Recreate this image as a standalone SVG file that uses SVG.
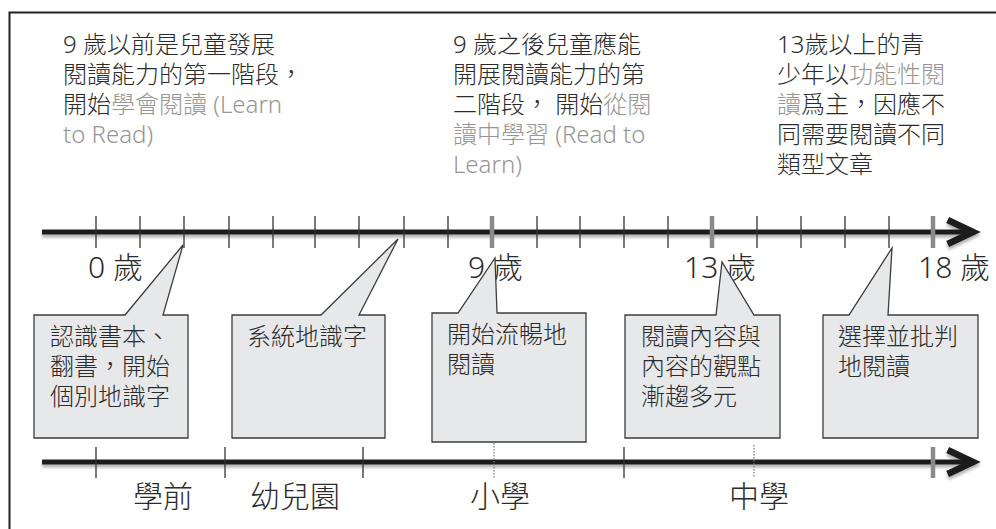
<svg xmlns="http://www.w3.org/2000/svg" width="996" height="529" viewBox="0 0 996 529" xml:lang="zh-Hant-TW" lang="zh-Hant-TW">
<style>
.t{font-family:"Noto Sans","Noto Sans CJK TC",sans-serif;font-size:24px;font-weight:300;fill:#2b2b2b}
.g{fill:#969696}
.ax{font-family:"Noto Sans","Noto Sans CJK TC",sans-serif;font-size:30px;font-weight:300;fill:#2b2b2b}
.bub{fill:#e7e8ea;stroke:#3c3c3c;stroke-width:1.3}
.main{stroke:#1e1e1e;stroke-width:5;fill:none}
.tick{stroke:#333;stroke-width:1.3}
.gt{stroke:#8a8a8a;stroke-width:4.5}
.dot{stroke:#777;stroke-width:1.2;stroke-dasharray:1.5 1.5}
</style>
<defs>
<filter id="sh" filterUnits="userSpaceOnUse" x="0" y="0" width="996" height="529">
<feDropShadow dx="0" dy="3" stdDeviation="1.5" flood-color="#000" flood-opacity="0.3"/>
</filter>
<marker id="chev" markerUnits="userSpaceOnUse" markerWidth="40" markerHeight="40" viewBox="0 0 30 30" refX="22" refY="15" orient="auto">
<path d="M3,6 L22,15 L3,24" fill="none" stroke="#1e1e1e" stroke-width="5" stroke-linejoin="miter"/>
</marker>
</defs>
<rect width="996" height="529" fill="#fff"/>
<g id="frame" stroke="#222" stroke-width="2" fill="none">
<path d="M996,12.5 L9.5,12.5 L9.5,529"/>
</g>

<g id="intro-texts">
<g id="text-before9">
<text class="t" x="63" y="53">9 歲以前是兒童發展</text>
<text class="t" x="63" y="83">閱讀能力的第一階段，</text>
<text class="t" x="63" y="113">開始<tspan class="g">學會閱讀 (Learn</tspan></text>
<text class="t g" x="63" y="143">to Read)</text>
</g>
<g id="text-after9">
<text class="t" x="453" y="53">9 歲之後兒童應能</text>
<text class="t" x="453" y="83">開展閱讀能力的第</text>
<text class="t" x="453" y="113">二階段， 開始<tspan class="g">從閱</tspan></text>
<text class="t g" x="453" y="143">讀中學習 (Read to</text>
<text class="t g" x="453" y="173">Learn)</text>
</g>
<g id="text-after13">
<text class="t" x="777" y="53">13歲以上的青</text>
<text class="t" x="777" y="83">少年以<tspan class="g">功能性閱</tspan></text>
<text class="t" x="777" y="113"><tspan class="g">讀</tspan>爲主，因應不</text>
<text class="t" x="777" y="143">同需要閱讀不同</text>
<text class="t" x="777" y="173">類型文章</text>
</g>
</g>

<g id="connectors">
<g id="age-axis">
<g filter="url(#sh)">
<line class="main" x1="42" y1="232" x2="973" y2="232" marker-end="url(#chev)"/>
</g>
<g class="tick">
<line x1="96" y1="216" x2="96" y2="248"/>
<line x1="140" y1="216" x2="140" y2="248"/>
<line x1="184" y1="216" x2="184" y2="248"/>
<line x1="229" y1="216" x2="229" y2="248"/>
<line x1="273" y1="216" x2="273" y2="248"/>
<line x1="315" y1="216" x2="315" y2="248"/>
<line x1="359" y1="216" x2="359" y2="248"/>
<line x1="404" y1="216" x2="404" y2="248"/>
<line x1="448" y1="216" x2="448" y2="248"/>
<line x1="537" y1="216" x2="537" y2="248"/>
<line x1="580" y1="216" x2="580" y2="248"/>
<line x1="624" y1="216" x2="624" y2="248"/>
<line x1="668" y1="216" x2="668" y2="248"/>
<line x1="757" y1="216" x2="757" y2="248"/>
<line x1="801" y1="216" x2="801" y2="248"/>
<line x1="845" y1="216" x2="845" y2="248"/>
<line x1="889" y1="216" x2="889" y2="248"/>
</g>
<g class="gt">
<line x1="492" y1="216" x2="492" y2="248"/>
<line x1="712" y1="216" x2="712" y2="248"/>
<line x1="933" y1="216" x2="933" y2="248"/>
</g>
</g>
<g id="school-axis">
<g filter="url(#sh)">
<line class="main" x1="42" y1="462" x2="973" y2="462" marker-end="url(#chev)"/>
</g>
<g class="tick">
<line x1="96" y1="447" x2="96" y2="478"/>
<line x1="225" y1="447" x2="225" y2="478"/>
<line x1="363" y1="447" x2="363" y2="478"/>
<line x1="624" y1="447" x2="624" y2="478"/>
</g>
<line class="dot" x1="494" y1="443" x2="494" y2="478"/>
<line class="dot" x1="754" y1="445" x2="754" y2="478"/>
<line class="gt" x1="933" y1="447" x2="933" y2="478"/>
</g>
</g>

<g id="age-labels">
<text class="ax" x="88" y="278">0 歲</text>
<text class="ax" x="468" y="278">9 歲</text>
<text class="ax" x="684" y="278">13 歲</text>
<text class="ax" x="918" y="278">18 歲</text>
</g>

<g id="bubble-1">
<path class="bub" d="M34,315 L125,315 L183,245 L163,315 L188,315 L188,438 L34,438 Z"/>
<text class="t" x="50" y="345">認識書本、</text>
<text class="t" x="50" y="375">翻書，開始</text>
<text class="t" x="50" y="405">個別地識字</text>
</g>
<g id="bubble-2">
<path class="bub" d="M232,315 L321,315 L398,239 L359,315 L385,315 L385,438 L232,438 Z"/>
<text class="t" x="247" y="345">系統地識字</text>
</g>
<g id="bubble-3">
<path class="bub" d="M432,313 L458,313 L495,258 L497,313 L586,313 L586,442 L432,442 Z"/>
<text class="t" x="447" y="343">開始流暢地</text>
<text class="t" x="447" y="373">閱讀</text>
</g>
<g id="bubble-4">
<path class="bub" d="M625,315 L716,315 L722,262 L754,315 L780,315 L780,438 L625,438 Z"/>
<text class="t" x="641" y="345">閱讀內容與</text>
<text class="t" x="641" y="375">內容的觀點</text>
<text class="t" x="641" y="405">漸趨多元</text>
</g>
<g id="bubble-5">
<path class="bub" d="M823,315 L849,315 L892,248 L888,315 L978,315 L978,438 L823,438 Z"/>
<text class="t" x="838" y="345">選擇並批判</text>
<text class="t" x="838" y="375">地閱讀</text>
</g>

<g id="school-labels">
<text class="ax" x="133" y="507">學前</text>
<text class="ax" x="250" y="507">幼兒園</text>
<text class="ax" x="470" y="507">小學</text>
<text class="ax" x="729" y="507">中學</text>
</g>
</svg>
